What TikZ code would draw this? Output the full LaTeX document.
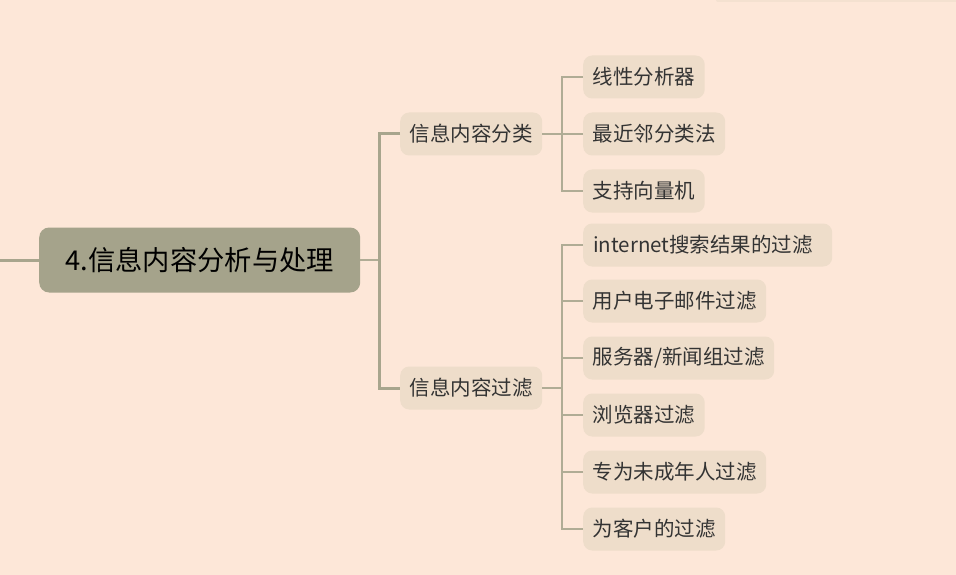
\documentclass[tikz,border=0pt]{standalone}
\usepackage{fontspec}
\setmainfont{Noto Sans CJK SC}
\definecolor{bgc}{HTML}{FDE7D8}
\definecolor{leafc}{HTML}{EEDDCA}
\definecolor{rootc}{HTML}{A5A38B}
\definecolor{linec}{HTML}{A8A58D}
\definecolor{thinc}{HTML}{B0AC95}
\definecolor{txtc}{HTML}{333333}
\begin{document}
\begin{tikzpicture}[x=1pt,y=-1pt,
  leaf/.style={anchor=west,fill=leafc,rounded corners=9pt,minimum height=43pt,inner xsep=9.5pt,inner ysep=0pt,text=txtc,font=\fontsize{20.5}{24}\selectfont},
  rootbox/.style={anchor=west,fill=rootc,rounded corners=10pt,minimum height=65pt,minimum width=321pt,inner xsep=0pt,text=black,font=\fontsize{27.3}{30}\selectfont},
  trunk/.style={linec,line width=3pt},
  twig/.style={thinc,line width=1.6pt}]
\fill[bgc] (0,0) rectangle (956,575);
\useasboundingbox (0,0) rectangle (956,575);
\fill[leafc!60!bgc,rounded corners=2pt] (716,-3) rectangle (960,2);
% nodes
\node[rootbox] (root) at (39,260) {4.信息内容分析与处理};
\node[leaf] (b1) at (400,134) {信息内容分类};
\node[leaf] (b2) at (400,388) {信息内容过滤};
\node[leaf] (a1) at (583,77) {线性分析器};
\node[leaf] (a2) at (583,134) {最近邻分类法};
\node[leaf] (a3) at (583,191) {支持向量机};
\node[leaf,minimum width=249pt,text width=229pt] (c1) at (583,245) {internet搜索结果的过滤};
\node[leaf] (c2) at (583,301) {用户电子邮件过滤};
\node[leaf] (c3) at (583,358) {服务器/新闻组过滤};
\node[leaf] (c4) at (583,415) {浏览器过滤};
\node[leaf] (c5) at (583,472) {专为未成年人过滤};
\node[leaf] (c6) at (583,529) {为客户的过滤};
\coordinate (lin) at (0,260);
% connectors
\draw[trunk] (lin) -- (root.west);
\draw[twig,line width=2.2pt] (root.east) -- (379,260);
\draw[trunk] (b1.west) -- (379,134) -- (379,388) -- (b2.west);
\draw[twig] (b1.east) -- (562,134);
\draw[twig] (a1.west) -- (562,77) -- (562,191) -- (a3.west);
\draw[twig] (a2.west) -- (562,134);
\draw[twig] (b2.east) -- (562,388);
\draw[twig] (c1.west) -- (562,245) -- (562,529) -- (c6.west);
\foreach \n in {c2,c3,c4,c5} \draw[twig] (\n.west) -- (562,0 |- \n.west);
\end{tikzpicture}
\end{document}
